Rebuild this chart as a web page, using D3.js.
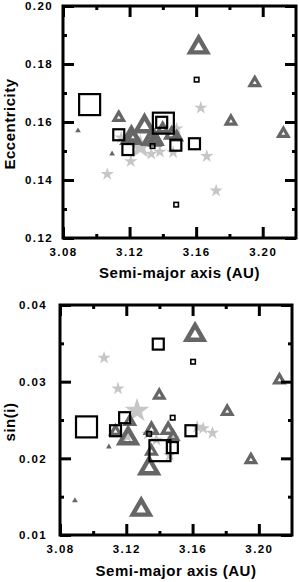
<!DOCTYPE html>
<html>
<head>
<meta charset="utf-8">
<script src="https://cdn.jsdelivr.net/npm/d3@7"></script>
<style>
  body { margin: 0; background: #fff; }
  svg { display: block; }
  text { font-family: "Liberation Sans", Arial, sans-serif; font-weight: bold; }
</style>
</head>
<body>
<div class="container"></div>
<script>
const w = 299;
const h = 582;

// x ticks shared by both panels
const xMajorTicks = [3.08, 3.12, 3.16, 3.20];
const xMinorTicks = [3.10, 3.14, 3.18];
const eTicks = [0.12, 0.14, 0.16, 0.18, 0.20];
const eMinorTicks = [0.13, 0.15, 0.17, 0.19];
const iTicks = [0.01, 0.02, 0.03, 0.04];
const iMinorTicks = [0.015, 0.025, 0.035];

// open squares: semi-major axis, eccentricity, sin(i), size class
const squareA = [3.0960, 3.1135, 3.1190, 3.1403, 3.1393, 3.1338, 3.1478, 3.1590, 3.1603, 3.1480];
const squareE = [0.1660, 0.1556, 0.1505, 0.1596, 0.1599, 0.1517, 0.1520, 0.1525, 0.1746, 0.1315];
const squareI = [0.0241, 0.0236, 0.0253, 0.0210, 0.0349, 0.0232, 0.0214, 0.0236, 0.0326, 0.0253];
const squareClass = [3, 2, 2, 3, 2, 1, 2, 2, 1, 1];

// open triangles
const triA = [3.1615, 3.1952, 3.1809, 3.2124, 3.1135, 3.1290, 3.1211, 3.1399, 3.1221, 3.1352, 3.1453, 3.1352, 3.1338, 3.1483];
const triE = [0.1857, 0.1735, 0.1602, 0.1560, 0.1615, 0.1585, 0.1545, 0.1577, 0.1548, 0.1542, 0.1556, 0.1530, 0.1542, 0.1548];
const triI = [0.0361, 0.0198, 0.0261, 0.0302, 0.0235, 0.0133, 0.0226, 0.0282, 0.0248, 0.0237, 0.0237, 0.0209, 0.0187, 0.0228];
const triClass = [3, 1, 1, 1, 1, 3, 3, 1, 1, 2, 2, 1, 3, 1];

// small filled triangles
const dotA = [3.0890, 3.1095];
const dotE = [0.1570, 0.1490];
const dotI = [0.0145, 0.0215];

// grey stars
const starA = [3.1066, 3.1150, 3.1265, 3.1664, 3.1720, 3.1628, 3.1207, 3.1382, 3.1462, 3.1483, 3.1330];
const starE = [0.1420, 0.1546, 0.1514, 0.1482, 0.1363, 0.1649, 0.1464, 0.1497, 0.1495, 0.1577, 0.1490];
const starI = [0.0331, 0.0291, 0.0262, 0.0239, 0.0233, 0.0241, 0.0228, 0.0224, 0.0204, 0.0226, 0.0232];
const starClass = [1, 1, 3, 1, 1, 1, 1, 1, 1, 1, 1];

const panels = [
  { field: 'e', label: 'Eccentricity', domain: [0.12, 0.20], ticks: eTicks, minor: eMinorTicks,
    left: 63, right: 296, top: 6, bottom: 238, yPad: 10, titleY: 278 },
  { field: 'i', label: 'sin(i)', domain: [0.01, 0.04], ticks: iTicks, minor: iMinorTicks,
    left: 60, right: 292, top: 305, bottom: 535, yPad: 13, titleY: 576 },
];

const squareSide = d3.scaleOrdinal().domain([1, 2, 3]).range([4.5, 11, 21]);
const triSide = d3.scaleOrdinal().domain([1, 2, 3]).range([9.5, 11.5, 17]);
const starRadius = d3.scaleOrdinal().domain([1, 3]).range([7, 13]);

const squares = squareA.map((a, k) => ({ a, e: squareE[k], i: squareI[k], c: squareClass[k] }));
const triangles = triA.map((a, k) => ({ a, e: triE[k], i: triI[k], c: triClass[k] }));
const dots = dotA.map((a, k) => ({ a, e: dotE[k], i: dotI[k] }));
const stars = starA.map((a, k) => ({ a, e: starE[k], i: starI[k], c: starClass[k] }));

const svg = d3.select('.container').append('svg').attr('width', w).attr('height', h);

panels.forEach(drawPanel);

function drawPanel(p) {
  const x = d3.scaleLinear().domain([3.08, 3.22]).range([p.left, p.right]);
  const y = d3.scaleLinear().domain(p.domain).range([p.bottom, p.top]);
  const g = svg.append('g');

  // stars
  g.selectAll('path.star').data(stars).enter().append('path')
    .attr('class', 'star')
    .attr('transform', (d) => `translate(${x(d.a)},${y(d[p.field])})`)
    .attr('d', (d) => d3.symbol(d3.symbolStar, Math.pow(starRadius(d.c), 2) / 0.8908130915292852)())
    .attr('fill', '#c6c6c6');

  // open triangles
  g.selectAll('path.tri').data(triangles).enter().append('path')
    .attr('class', 'tri')
    .attr('transform', (d) => `translate(${x(d.a)},${y(d[p.field])})`)
    .attr('d', (d) => d3.symbol(d3.symbolTriangle, triSide(d.c) * triSide(d.c) * Math.sqrt(3) / 4)())
    .attr('fill', 'none')
    .attr('stroke', '#666')
    .attr('stroke-width', (d) => 1.7 + triSide(d.c) * 0.16);

  // tiny filled triangles
  g.selectAll('path.dot').data(dots).enter().append('path')
    .attr('class', 'dot')
    .attr('transform', (d) => `translate(${x(d.a)},${y(d[p.field])})`)
    .attr('d', d3.symbol(d3.symbolTriangle, 14)())
    .attr('fill', '#666');

  // open squares
  g.selectAll('rect.sq').data(squares).enter().append('rect')
    .attr('class', 'sq')
    .attr('x', (d) => x(d.a) - squareSide(d.c) / 2)
    .attr('y', (d) => y(d[p.field]) - squareSide(d.c) / 2)
    .attr('width', (d) => squareSide(d.c))
    .attr('height', (d) => squareSide(d.c))
    .attr('fill', 'none')
    .attr('stroke', '#000')
    .attr('stroke-width', (d) => (d.c === 1 ? 1.6 : 2.2));

  // frame
  g.append('rect')
    .attr('x', p.left).attr('y', p.top)
    .attr('width', p.right - p.left).attr('height', p.bottom - p.top)
    .attr('fill', 'none').attr('stroke', '#000').attr('stroke-width', 3);

  // axes, ticks pointing in
  const fmt = d3.format('.2f');
  const axes = [
    [d3.axisBottom(x).tickValues(xMajorTicks).tickSize(-11).tickPadding(10).tickFormat(fmt), `translate(0,${p.bottom})`],
    [d3.axisBottom(x).tickValues(xMinorTicks).tickSize(-4).tickFormat(''), `translate(0,${p.bottom})`],
    [d3.axisTop(x).tickValues(xMajorTicks).tickSize(-11).tickFormat(''), `translate(0,${p.top})`],
    [d3.axisTop(x).tickValues(xMinorTicks).tickSize(-4).tickFormat(''), `translate(0,${p.top})`],
    [d3.axisLeft(y).tickValues(p.ticks).tickSize(-11).tickPadding(p.yPad).tickFormat(fmt), `translate(${p.left},0)`],
    [d3.axisLeft(y).tickValues(p.minor).tickSize(-4).tickFormat(''), `translate(${p.left},0)`],
    [d3.axisRight(y).tickValues(p.ticks).tickSize(-11).tickFormat(''), `translate(${p.right},0)`],
    [d3.axisRight(y).tickValues(p.minor).tickSize(-4).tickFormat(''), `translate(${p.right},0)`],
  ];

  axes.forEach(([axis, tr]) => {
    const ag = g.append('g').attr('transform', tr).call(axis);
    ag.select('.domain').remove();
    ag.selectAll('line').attr('stroke', '#000').attr('stroke-width', 3);
    ag.selectAll('text')
      .attr('fill', '#000')
      .style('font-size', '11.5px')
      .style('font-weight', 'bold')
      .style('letter-spacing', '1.4px')
      .style('font-family', '"Liberation Sans", Arial, sans-serif');
  });

  g.append('text')
    .attr('x', (p.left + p.right) / 2)
    .attr('y', p.titleY)
    .attr('text-anchor', 'middle')
    .style('font-size', '15px')
    .style('letter-spacing', '0.5px')
    .text('Semi-major axis (AU)');

  g.append('text')
    .attr('transform', `translate(15,${(p.top + p.bottom) / 2 + 2}) rotate(-90)`)
    .attr('text-anchor', 'middle')
    .style('font-size', '15px')
    .style('letter-spacing', '0.5px')
    .text(p.label);
}
</script>
</body>
</html>
